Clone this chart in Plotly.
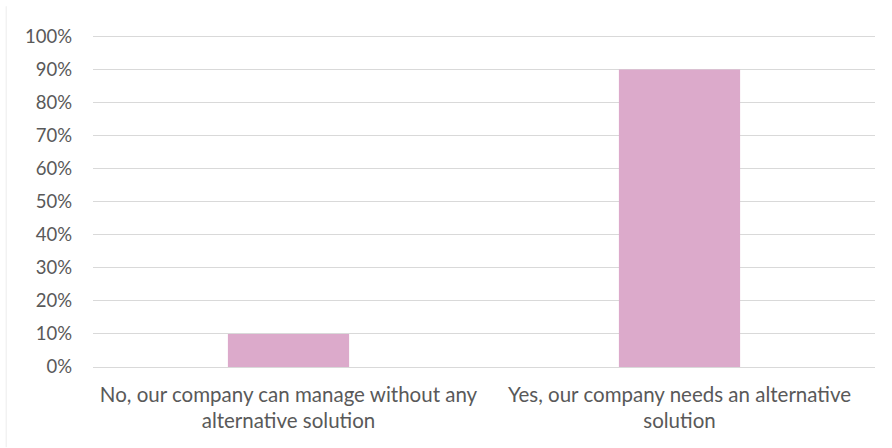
import plotly.graph_objects as go

categories = [
    "No, our company can manage without any<br>alternative solution",
    "Yes, our company needs an alternative<br>solution",
]
shares = [0.10, 0.90]
y_ticks = [i / 10 for i in range(11)]
y_tick_labels = [f"{i * 10}%" for i in range(11)]

fig = go.Figure(
    go.Bar(
        x=categories,
        y=shares,
        marker=dict(color="#dcaacb", line=dict(width=0)),
        width=0.31,
        hoverinfo="skip",
    )
)

fig.update_layout(
    width=892,
    height=448,
    margin=dict(l=93, r=17, t=33, b=81),
    paper_bgcolor="white",
    plot_bgcolor="white",
    font=dict(family="Lato, Calibri, sans-serif", size=19, color="#595959"),
    showlegend=False,
    bargap=0.69,
)
fig.update_yaxes(
    range=[0, 1.01],
    tickvals=y_ticks,
    ticktext=y_tick_labels,
    tickfont=dict(size=18.5),
    showgrid=True,
    gridcolor="#d9d9d9",
    gridwidth=1,
    zeroline=False,
    showline=False,
    ticks="",
    ticklabelstandoff=20,
)
fig.update_xaxes(
    showgrid=False,
    showline=True,
    linecolor="#d9d9d9",
    ticks="",
    tickangle=0,
    tickfont=dict(size=20.5),
    ticklabelstandoff=9,
)
fig.add_shape(
    type="line", xref="paper", yref="paper",
    x0=-0.111, x1=-0.111, y0=-0.24, y1=1.08,
    line=dict(color="#ececec", width=1),
)

fig.write_html("out.html")
